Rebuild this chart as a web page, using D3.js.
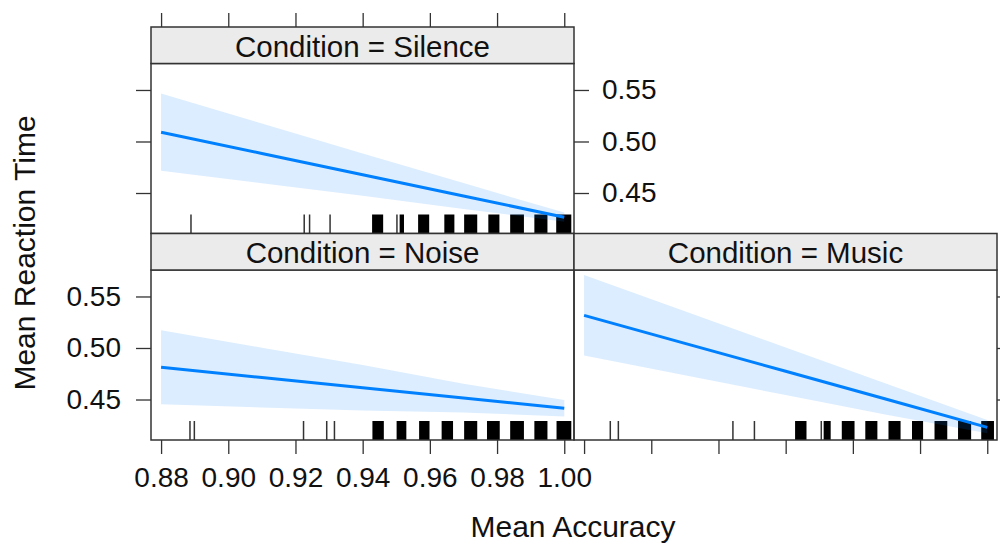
<!DOCTYPE html>
<html>
<head>
<meta charset="utf-8">
<script src="https://cdn.jsdelivr.net/npm/d3@7"></script>
<style>
  body { margin: 0; background: #fff; }
  text { font-family: "Liberation Sans", Arial, Helvetica, sans-serif; fill: #111; }
</style>
</head>
<body>
<div id="app"></div>
<script>
// data
const conditions = ["Silence", "Noise", "Music"];
const xTicks = [0.88, 0.90, 0.92, 0.94, 0.96, 0.98, 1.00];
const yTicks = [0.45, 0.50, 0.55];

const accuracy = [0.88, 0.91, 0.94, 0.97, 1.00];

const silenceFit   = [0.5090, 0.4884, 0.4678, 0.4471, 0.4265];
const silenceLower = [0.4715, 0.4594, 0.4473, 0.4346, 0.4220];
const silenceUpper = [0.5465, 0.5174, 0.4883, 0.4596, 0.4310];

const noiseFit   = [0.4813, 0.4713, 0.4614, 0.4514, 0.4415];
const noiseLower = [0.4453, 0.4423, 0.4394, 0.4374, 0.4335];
const noiseUpper = [0.5173, 0.5003, 0.4834, 0.4654, 0.4495];

const musicFit   = [0.5317, 0.5045, 0.4774, 0.4502, 0.4230];
const musicLower = [0.4926, 0.4735, 0.4543, 0.4352, 0.4172];
const musicUpper = [0.5709, 0.5357, 0.5005, 0.4652, 0.4300];

// rug: [from, to] (single marks have from == to)
const silenceRug = [[0.8889, 0.8889], [0.9226, 0.9226], [0.9242, 0.9242], [0.9303, 0.9303],
    [0.9431, 0.9458], [0.9502, 0.9502], [0.9513, 0.9520], [0.9568, 0.9595], [0.9646, 0.9670],
    [0.9705, 0.9738], [0.9777, 0.9804], [0.9842, 0.9877], [0.9914, 0.9947], [0.9979, 1.0018]];
const noiseRug = [[0.8886, 0.8886], [0.8899, 0.8899], [0.9224, 0.9224], [0.9293, 0.9293],
    [0.9316, 0.9316], [0.9432, 0.9460], [0.9504, 0.9527], [0.9571, 0.9596], [0.9638, 0.9666],
    [0.9705, 0.9738], [0.9773, 0.9805], [0.9842, 0.9877], [0.9914, 0.9947], [0.9980, 1.0018]];
const musicRug = [[0.8878, 0.8878], [0.8902, 0.8902], [0.9243, 0.9243], [0.9307, 0.9307],
    [0.9431, 0.9459], [0.9506, 0.9506], [0.9516, 0.9531], [0.9570, 0.9602], [0.9640, 0.9670],
    [0.9709, 0.9739], [0.9779, 0.9806], [0.9846, 0.9878], [0.9916, 0.9949], [0.9985, 1.0017]];

const panels = [
    { cond: conditions[0], col: 0, row: 0, fit: silenceFit, lower: silenceLower, upper: silenceUpper, rug: silenceRug },
    { cond: conditions[1], col: 0, row: 1, fit: noiseFit, lower: noiseLower, upper: noiseUpper, rug: noiseRug },
    { cond: conditions[2], col: 1, row: 1, fit: musicFit, lower: musicLower, upper: musicUpper, rug: musicRug }
];

const width = 1000, height = 545;
const colX = [151, 574];
const stripTop = [27, 233.5];
const stripH = 36.5;
const panelW = 423, panelH = 170;
const tick = 15;
const lineCol = "#0080ff";

const svg = d3.select("#app")
    .append("svg")
    .attr("width", width)
    .attr("height", height);

function xScale(col) {
    return d3.scaleLinear().domain([0.877, 1.0029]).range([colX[col], colX[col] + panelW]);
}
function yScale(row) {
    const top = stripTop[row] + stripH;
    return d3.scaleLinear().domain([0.4107, 0.5757]).range([top + panelH, top]);
}

function styleAxis(g, size) {
    g.select(".domain").remove();
    g.selectAll(".tick line").attr("stroke", "#333").attr("stroke-width", 1.3);
    g.selectAll(".tick text")
        .style("font-size", size + "px")
        .style("font-family", "'Liberation Sans', Arial, sans-serif")
        .attr("fill", "#111");
}

panels.forEach((p, i) => {
    const x = xScale(p.col);
    const y = yScale(p.row);
    const top = stripTop[p.row] + stripH;
    const bottom = top + panelH;

    const clipId = "clip" + i;
    svg.append("clipPath").attr("id", clipId)
        .append("rect")
        .attr("x", colX[p.col]).attr("y", top)
        .attr("width", panelW).attr("height", panelH);

    const g = svg.append("g").attr("clip-path", `url(#${clipId})`);

    // rug
    g.selectAll("rect.rug")
        .data(p.rug.filter(d => d[1] > d[0]))
        .join("rect")
        .attr("class", "rug")
        .attr("x", d => x(d[0]) - 1)
        .attr("width", d => x(d[1]) - x(d[0]) + 2)
        .attr("y", bottom - 19)
        .attr("height", 19)
        .attr("fill", "#000");

    g.selectAll("line.rug")
        .data(p.rug.filter(d => d[1] === d[0]))
        .join("line")
        .attr("class", "rug")
        .attr("x1", d => x(d[0]))
        .attr("x2", d => x(d[0]))
        .attr("y1", bottom - 19)
        .attr("y2", bottom)
        .attr("stroke", "#333")
        .attr("stroke-width", 1.5);

    const pts = accuracy.map((a, k) => ({ a: a, fit: p.fit[k], lo: p.lower[k], hi: p.upper[k] }));

    // confidence band
    g.append("path")
        .datum(pts)
        .attr("d", d3.area().x(d => x(d.a)).y0(d => y(d.lo)).y1(d => y(d.hi)))
        .attr("fill", lineCol)
        .attr("fill-opacity", 0.14);

    // fitted line
    g.append("path")
        .datum(pts)
        .attr("d", d3.line().x(d => x(d.a)).y(d => y(d.fit)))
        .attr("fill", "none")
        .attr("stroke", lineCol)
        .attr("stroke-width", 3);

    // panel border
    svg.append("rect")
        .attr("x", colX[p.col]).attr("y", top)
        .attr("width", panelW).attr("height", panelH)
        .attr("fill", "none")
        .attr("stroke", "#333")
        .attr("stroke-width", 1.5);

    // strip
    svg.append("rect")
        .attr("x", colX[p.col]).attr("y", stripTop[p.row])
        .attr("width", panelW).attr("height", stripH)
        .attr("fill", "#ebebeb")
        .attr("stroke", "#333")
        .attr("stroke-width", 1.5);

    svg.append("text")
        .attr("x", colX[p.col] + panelW / 2)
        .attr("y", stripTop[p.row] + stripH / 2 + 1)
        .attr("text-anchor", "middle")
        .attr("dominant-baseline", "central")
        .style("font-size", "29.5px")
        .text("Condition = " + p.cond);

    // axes, alternating like lattice
    if (p.row === 0) {
        const ax = svg.append("g")
            .attr("transform", `translate(0,${stripTop[p.row]})`)
            .call(d3.axisTop(x).tickValues(xTicks).tickSize(14).tickFormat(""));
        styleAxis(ax, 28);
    }
    if (p.row === 1) {
        const ax = svg.append("g")
            .attr("transform", `translate(0,${bottom})`)
            .call(d3.axisBottom(x).tickValues(xTicks).tickSize(14).tickPadding(13)
                .tickFormat(p.col === 0 ? d3.format(".2f") : ""));
        styleAxis(ax, 28);
    }
    if (p.col === 0) {
        const ax = svg.append("g")
            .attr("transform", `translate(${colX[0]},0)`)
            .call(d3.axisLeft(y).tickValues(yTicks).tickSize(tick).tickPadding(15)
                .tickFormat(p.row === 1 ? d3.format(".2f") : ""));
        styleAxis(ax, 28);
    }
    if (p.col === 1 || p.row === 0) {
        const ax = svg.append("g")
            .attr("transform", `translate(${colX[p.col] + panelW},0)`)
            .call(d3.axisRight(y).tickValues(yTicks).tickSize(tick).tickPadding(13)
                .tickFormat(p.row === 0 ? d3.format(".2f") : ""));
        styleAxis(ax, 28);
    }
});

// axis titles
svg.append("text")
    .attr("x", 573)
    .attr("y", 537)
    .attr("text-anchor", "middle")
    .style("font-size", "30px")
    .text("Mean Accuracy");

svg.append("text")
    .attr("transform", "translate(35,253) rotate(-90)")
    .attr("text-anchor", "middle")
    .style("font-size", "30px")
    .text("Mean Reaction Time");
</script>
</body>
</html>
